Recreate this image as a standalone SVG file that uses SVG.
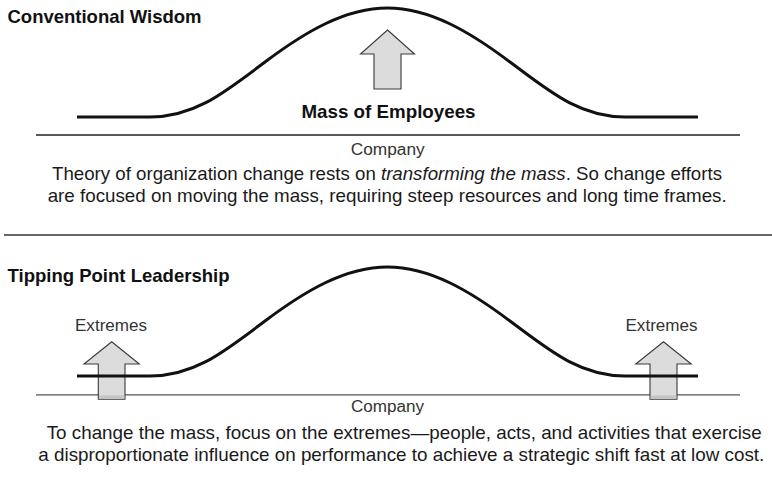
<svg xmlns="http://www.w3.org/2000/svg" width="772" height="486" viewBox="0 0 772 486">
  <style>
    .title { font-family: "Liberation Sans", Arial, Helvetica, sans-serif; font-weight: bold; font-size: 18.5px; fill: #111; }
    .body { font-family: "Liberation Sans", Arial, Helvetica, sans-serif; font-size: 18.5px; fill: #1a1a1a; }
    .lbl { font-family: "Liberation Sans", Arial, Helvetica, sans-serif; font-size: 16px; fill: #333; }
    .curve { fill: none; stroke: #111; stroke-width: 3; stroke-linejoin: round; }
    .arrow { fill: #dcdcdc; stroke: #3a3a3a; stroke-width: 1.1; stroke-linejoin: miter; }
    .base { stroke: #222; stroke-width: 1.3; }
    .base2 { stroke: #555; stroke-width: 1.2; }
    .sep { stroke: #333; stroke-width: 1.3; }
  </style>
  <defs>
    <path id="bell" d="M77,117 L150,117 C195,117 225,92 265,62 C305,32 345,8 387.5,8 C430,8 470,32 510,62 C550,92 580,117 625,117 L698,117"/>
  </defs>

  <rect width="772" height="486" fill="#ffffff"/>

  <!-- Section 1: Conventional Wisdom -->
  <g id="title-conventional">
    <text class="title" x="7.5" y="22.5" textLength="194" lengthAdjust="spacingAndGlyphs">Conventional Wisdom</text>
  </g>
  <g id="axis-top">
    <line class="base" x1="36" y1="135" x2="740" y2="135"/>
    <text class="lbl" x="387.7" y="155" text-anchor="middle" textLength="74" lengthAdjust="spacingAndGlyphs">Company</text>
  </g>
  <g id="curve-top">
    <use href="#bell" class="curve"/>
  </g>
  <g id="arrow-mass">
    <polygon class="arrow" points="387.5,30 414.5,54 401,54 401,89 374,89 374,54 360.5,54"/>
    <text class="title" x="388.5" y="117.5" text-anchor="middle" textLength="174" lengthAdjust="spacingAndGlyphs">Mass of Employees</text>
  </g>
  <g id="caption-top">
    <text class="body" x="52" y="180" textLength="670" lengthAdjust="spacingAndGlyphs">Theory of organization change rests on <tspan font-style="italic">transforming the mass</tspan>. So change efforts</text>
    <text class="body" x="47.7" y="202" textLength="679" lengthAdjust="spacingAndGlyphs">are focused on moving the mass, requiring steep resources and long time frames.</text>
  </g>

  <g id="connectors">
    <line class="sep" x1="4" y1="235" x2="772" y2="235"/>
  </g>

  <!-- Section 2: Tipping Point Leadership -->
  <g id="title-tipping">
    <text class="title" x="7.5" y="282" textLength="222" lengthAdjust="spacingAndGlyphs">Tipping Point Leadership</text>
  </g>
  <g id="axis-bottom">
    <line class="base2" x1="36" y1="394.8" x2="740" y2="394.8"/>
    <text class="lbl" x="387.5" y="412" text-anchor="middle" textLength="73" lengthAdjust="spacingAndGlyphs">Company</text>
  </g>
  <g id="arrow-extremes-left">
    <text class="lbl" x="111" y="330.7" text-anchor="middle" textLength="72" lengthAdjust="spacingAndGlyphs">Extremes</text>
    <polygon class="arrow" points="111.7,341.7 139.3,364 125,364 125,399.3 98.3,399.3 98.3,364 84,364"/>
    <rect x="98.9" y="395.4" width="25.5" height="3.4" fill="#c6c6c6"/>
  </g>
  <g id="arrow-extremes-right">
    <text class="lbl" x="661.5" y="330.7" text-anchor="middle" textLength="72" lengthAdjust="spacingAndGlyphs">Extremes</text>
    <polygon class="arrow" points="663.5,341.7 691.2,364 677,364 677,399.3 650,399.3 650,364 635.8,364"/>
    <rect x="650.6" y="395.4" width="25.8" height="3.4" fill="#c6c6c6"/>
  </g>
  <g id="curve-bottom">
    <use href="#bell" class="curve" transform="translate(0,259)"/>
  </g>
  <g id="caption-bottom">
    <text class="body" x="46.7" y="438.5" textLength="715" lengthAdjust="spacingAndGlyphs">To change the mass, focus on the extremes—people, acts, and activities that exercise</text>
    <text class="body" x="38.3" y="461" textLength="726" lengthAdjust="spacingAndGlyphs">a disproportionate influence on performance to achieve a strategic shift fast at low cost.</text>
  </g>
</svg>
